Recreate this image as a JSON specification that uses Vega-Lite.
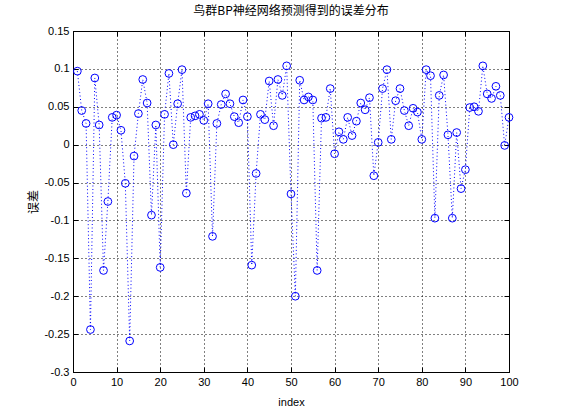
{
  "$schema": "https://vega.github.io/schema/vega-lite/v6.json",
  "autosize": "none",
  "width": 436,
  "height": 341,
  "padding": {"left": 73, "top": 31, "right": 52, "bottom": 48},
  "background": "white",
  "title": {"text": "鸟群BP神经网络预测得到的误差分布", "font": "Noto Sans CJK SC", "fontSize": 12, "fontWeight": "normal", "color": "black", "anchor": "middle", "offset": 7},
  "config": {
    "view": {"stroke": "black", "strokeWidth": 1},
    "axis": {"labelFont": "Liberation Sans", "labelFontSize": 11, "labelColor": "black", "titleColor": "black", "titleFontWeight": "normal", "domain": false, "tickColor": "black", "gridColor": "black", "gridDash": [1, 3], "gridOpacity": 1, "gridWidth": 1, "labelFlush": false, "labelOverlap": false}
  },
  "data": {"values": [
    {"index": 1, "err": 0.097}, {"index": 2, "err": 0.045}, {"index": 3, "err": 0.028}, {"index": 4, "err": -0.244}, {"index": 5, "err": 0.088},
    {"index": 6, "err": 0.026}, {"index": 7, "err": -0.166}, {"index": 8, "err": -0.075}, {"index": 9, "err": 0.036}, {"index": 10, "err": 0.039},
    {"index": 11, "err": 0.019}, {"index": 12, "err": -0.051}, {"index": 13, "err": -0.259}, {"index": 14, "err": -0.015}, {"index": 15, "err": 0.041},
    {"index": 16, "err": 0.086}, {"index": 17, "err": 0.055}, {"index": 18, "err": -0.093}, {"index": 19, "err": 0.026}, {"index": 20, "err": -0.162},
    {"index": 21, "err": 0.040}, {"index": 22, "err": 0.094}, {"index": 23, "err": 0.000}, {"index": 24, "err": 0.054}, {"index": 25, "err": 0.099},
    {"index": 26, "err": -0.064}, {"index": 27, "err": 0.036}, {"index": 28, "err": 0.038}, {"index": 29, "err": 0.040}, {"index": 30, "err": 0.032},
    {"index": 31, "err": 0.054}, {"index": 32, "err": -0.121}, {"index": 33, "err": 0.028}, {"index": 34, "err": 0.053}, {"index": 35, "err": 0.067},
    {"index": 36, "err": 0.054}, {"index": 37, "err": 0.037}, {"index": 38, "err": 0.029}, {"index": 39, "err": 0.059}, {"index": 40, "err": 0.037},
    {"index": 41, "err": -0.159}, {"index": 42, "err": -0.038}, {"index": 43, "err": 0.040}, {"index": 44, "err": 0.033}, {"index": 45, "err": 0.084},
    {"index": 46, "err": 0.025}, {"index": 47, "err": 0.086}, {"index": 48, "err": 0.065}, {"index": 49, "err": 0.104}, {"index": 50, "err": -0.065},
    {"index": 51, "err": -0.200}, {"index": 52, "err": 0.085}, {"index": 53, "err": 0.059}, {"index": 54, "err": 0.063}, {"index": 55, "err": 0.059},
    {"index": 56, "err": -0.166}, {"index": 57, "err": 0.035}, {"index": 58, "err": 0.036}, {"index": 59, "err": 0.074}, {"index": 60, "err": -0.012},
    {"index": 61, "err": 0.017}, {"index": 62, "err": 0.007}, {"index": 63, "err": 0.036}, {"index": 64, "err": 0.012}, {"index": 65, "err": 0.031},
    {"index": 66, "err": 0.055}, {"index": 67, "err": 0.046}, {"index": 68, "err": 0.062}, {"index": 69, "err": -0.041}, {"index": 70, "err": 0.003},
    {"index": 71, "err": 0.074}, {"index": 72, "err": 0.099}, {"index": 73, "err": 0.007}, {"index": 74, "err": 0.058}, {"index": 75, "err": 0.074},
    {"index": 76, "err": 0.045}, {"index": 77, "err": 0.025}, {"index": 78, "err": 0.048}, {"index": 79, "err": 0.043}, {"index": 80, "err": 0.007},
    {"index": 81, "err": 0.099}, {"index": 82, "err": 0.091}, {"index": 83, "err": -0.097}, {"index": 84, "err": 0.065}, {"index": 85, "err": 0.092},
    {"index": 86, "err": 0.013}, {"index": 87, "err": -0.097}, {"index": 88, "err": 0.016}, {"index": 89, "err": -0.058}, {"index": 90, "err": -0.033},
    {"index": 91, "err": 0.049}, {"index": 92, "err": 0.050}, {"index": 93, "err": 0.044}, {"index": 94, "err": 0.104}, {"index": 95, "err": 0.067},
    {"index": 96, "err": 0.061}, {"index": 97, "err": 0.077}, {"index": 98, "err": 0.065}, {"index": 99, "err": -0.001}, {"index": 100, "err": 0.036}
  ]},
  "encoding": {
    "x": {"field": "index", "type": "quantitative", "scale": {"domain": [0, 100], "nice": false, "zero": false}},
    "y": {"field": "err", "type": "quantitative", "scale": {"domain": [-0.3, 0.15], "nice": false, "zero": false}}
  },
  "layer": [
    {
      "mark": {"type": "line", "color": "#0000ff", "strokeWidth": 1, "strokeDash": [1, 2.5]},
      "encoding": {
        "x": {"field": "index", "type": "quantitative", "axis": {"orient": "bottom", "title": "index", "titleFont": "Liberation Sans", "titleFontSize": 11, "titlePadding": 9, "values": [0,10,20,30,40,50,60,70,80,90,100], "tickSize": -5, "labelPadding": 9, "grid": true}},
        "y": {"field": "err", "type": "quantitative", "axis": {"orient": "left", "title": "误差", "titleFont": "Noto Sans CJK SC", "titleFontSize": 12, "titlePadding": 3, "values": [-0.3,-0.25,-0.2,-0.15,-0.1,-0.05,0,0.05,0.1,0.15], "labelExpr": "replace(format(datum.value, '~g'), '−', '-')", "tickSize": -5, "labelPadding": 9, "grid": true}}
      }
    },
    {
      "mark": {"type": "point", "shape": "circle", "filled": false, "color": "#0000ff", "size": 60, "strokeWidth": 1, "opacity": 1},
      "encoding": {
        "x": {"field": "index", "type": "quantitative", "axis": {"orient": "top", "title": null, "labels": false, "grid": false, "values": [0,10,20,30,40,50,60,70,80,90,100], "tickSize": -5}},
        "y": {"field": "err", "type": "quantitative", "axis": {"orient": "right", "title": null, "labels": false, "grid": false, "values": [-0.3,-0.25,-0.2,-0.15,-0.1,-0.05,0,0.05,0.1,0.15], "tickSize": -5}}
      }
    }
  ],
  "resolve": {"axis": {"x": "independent", "y": "independent"}}
}
